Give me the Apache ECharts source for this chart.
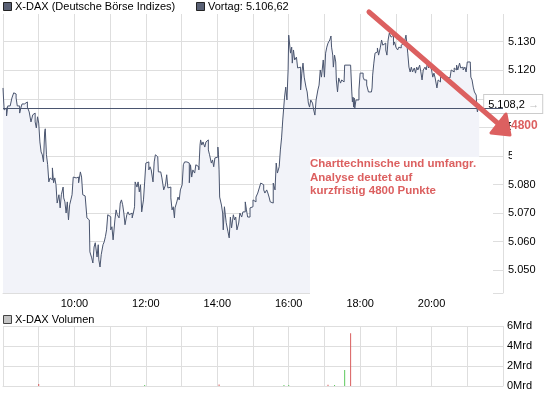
<!DOCTYPE html>
<html><head><meta charset="utf-8">
<script src="https://cdn.jsdelivr.net/npm/echarts@6/dist/echarts.min.js"></script>
<style>html,body{margin:0;padding:0;background:#fff}#c{width:545px;height:395px}</style>
</head><body><div id="c"></div>
<script>
const times = ['08:00','08:01','08:02','08:04','08:06','08:08','08:12','08:15','08:18','08:20','08:22','08:24','08:28','08:30','08:32','08:36','08:39','08:41','08:44','08:46','08:47','08:50','08:51','08:54','08:56','08:58',
'09:00','09:02','09:04','09:06','09:08','09:10','09:11','09:13','09:15','09:17','09:19','09:21','09:23','09:25','09:27','09:29','09:31','09:34','09:36','09:38','09:41','09:42','09:44','09:46','09:48','09:50','09:52','09:54','09:56','09:58',
'10:01','10:03','10:05','10:07','10:10','10:12','10:14','10:16','10:18','10:21','10:24','10:25','10:26','10:29','10:31','10:33','10:35','10:38','10:40','10:41','10:43','10:45','10:48','10:50','10:52','10:54','10:56','10:59',
'11:01','11:03','11:05','11:08','11:10','11:12','11:15','11:17','11:19','11:21','11:23','11:25','11:28','11:30','11:32','11:35','11:37','11:39','11:41','11:42','11:45','11:47','11:49','11:51','11:53','11:56','11:58',
'12:00','12:02','12:05','12:07','12:09','12:12','12:14','12:16','12:18','12:20','12:21','12:25','12:27','12:29','12:30','12:33','12:35','12:37','12:39','12:42','12:44','12:46','12:48','12:49','12:52','12:54','12:56','12:58',
'13:01','13:03','13:05','13:09','13:11','13:13','13:15','13:17','13:19','13:22','13:24','13:26','13:29','13:31','13:32','13:34','13:36','13:39','13:41','13:43','13:45','13:47','13:50','13:52','13:54','13:56','13:59',
'14:01','14:02','14:03','14:04','14:07','14:09','14:10','14:12','14:14','14:15','14:18','14:20','14:22','14:24','14:27','14:29','14:31','14:33','14:36','14:38','14:41','14:43','14:47','14:49','14:51','14:55','14:58',
'15:00','15:02','15:05','15:08','15:11','15:13','15:16','15:18','15:20','15:23','15:25','15:27','15:29','15:32','15:34','15:36','15:37','15:39','15:41','15:44','15:46','15:48','15:50','15:53','15:55','15:57','15:59',
'16:00','16:03','16:05','16:06','16:08','16:10','16:13','16:15','16:17','16:20','16:22','16:24','16:26','16:29','16:31','16:33','16:35','16:37','16:40','16:42','16:44','16:46','16:49','16:51','16:53','16:55','16:58',
'17:00','17:02','17:04','17:06','17:09','17:11','17:12','17:14','17:15','17:17','17:19','17:20','17:22','17:24','17:27','17:29','17:31','17:33','17:34','17:44','17:46','17:47','17:48','17:49','17:50','17:51','17:53','17:56','17:58',
'18:00','18:02','18:05','18:07','18:09','18:11','18:14','18:16','18:19','18:20','18:21','18:23','18:25','18:27','18:29','18:31','18:34','18:36','18:38','18:40','18:43','18:45','18:47','18:49','18:52','18:54','18:56','18:58',
'19:00','19:03','19:05','19:07','19:09','19:12','19:14','19:16','19:17','19:18','19:20','19:22','19:24','19:26','19:28','19:31','19:33','19:35','19:37','19:40','19:42','19:44','19:46','19:49','19:51','19:53','19:55','19:57',
'20:00','20:02','20:04','20:06','20:09','20:11','20:13','20:15','20:18','20:20','20:22','20:24','20:26','20:29','20:31','20:33','20:35','20:38','20:40','20:42','20:44','20:47','20:49','20:51','20:53','20:56','20:58',
'21:00','21:02','21:05','21:06','21:08','21:10','21:12','21:15','21:16','21:17','21:20'];
const prices = [5113.8,5109.6,5106.1,5106.8,5104.0,5107.5,5107.9,5110.3,5112.1,5111.7,5110.3,5107.5,5105.0,5106.8,5108.2,5107.5,5108.9,5107.1,5105.4,5105.0,5101.9,5104.4,5105.0,5101.9,5099.8,5103.7,
5101.5,5094.9,5091.4,5090.4,5087.9,5098.4,5099.5,5090.4,5086.9,5080.9,5082.3,5081.6,5085.8,5080.6,5082.3,5079.9,5073.5,5076.4,5071.8,5076.4,5079.1,5075.3,5073.9,5070.0,5073.9,5067.6,5072.9,5074.6,5076.4,5082.6,
5082.3,5081.6,5082.6,5080.6,5084.4,5082.6,5076.4,5076.0,5075.6,5068.3,5068.7,5067.6,5056.4,5054.3,5052.5,5058.1,5059.6,5054.6,5058.9,5053.6,5051.1,5055.4,5058.9,5059.9,5061.7,5064.1,5069.4,5068.7,
5064.1,5065.2,5060.6,5067.6,5071.1,5069.4,5068.3,5073.5,5074.6,5072.9,5070.0,5065.9,5069.4,5070.4,5069.4,5070.0,5068.3,5070.0,5072.2,5080.9,5079.1,5080.9,5077.4,5079.9,5070.4,5074.6,5080.9,
5087.5,5087.9,5085.1,5086.2,5085.1,5080.9,5087.9,5090.4,5089.7,5090.4,5084.4,5084.0,5082.3,5082.3,5078.1,5079.9,5083.4,5078.8,5079.1,5075.3,5071.1,5072.2,5068.3,5071.8,5073.9,5075.6,5074.6,5078.1,
5079.9,5086.9,5087.9,5087.9,5087.5,5080.6,5086.9,5082.6,5085.1,5084.0,5086.9,5086.2,5085.1,5093.8,5095.6,5093.8,5094.9,5093.1,5094.9,5095.6,5092.1,5090.4,5087.5,5088.6,5086.2,5089.3,5089.6,
5093.1,5090.4,5085.1,5075.6,5072.8,5070.0,5064.1,5072.2,5072.8,5066.6,5063.4,5061.3,5068.6,5064.8,5069.4,5067.6,5068.6,5064.1,5066.5,5070.0,5068.6,5070.4,5073.9,5071.1,5068.6,5071.8,5072.2,
5074.6,5073.9,5075.6,5077.0,5079.1,5080.5,5079.9,5078.1,5077.0,5078.1,5077.0,5075.6,5073.9,5073.5,5080.5,5080.9,5078.1,5087.5,5084.0,5086.2,5092.1,5096.3,5102.6,5110.6,5114.1,5109.6,5120.1,
5132.3,5126.0,5128.1,5122.5,5127.1,5123.6,5124.6,5120.8,5121.1,5113.1,5119.0,5122.5,5117.6,5114.1,5112.4,5108.5,5107.1,5109.6,5108.5,5106.1,5104.3,5109.6,5113.1,5114.8,5120.1,5117.6,5123.6,
5117.6,5126.0,5128.1,5129.5,5130.6,5132.0,5128.1,5125.3,5121.1,5125.3,5122.9,5116.6,5112.4,5117.3,5115.5,5116.6,5115.9,5115.9,5121.8,5121.8,5112.4,5108.9,5110.6,5107.1,5110.3,5106.8,5109.6,5109.6,5113.1,
5119.0,5119.0,5117.6,5116.6,5116.6,5114.8,5112.4,5112.4,5112.4,5113.8,5118.3,5122.5,5126.0,5126.4,5127.8,5125.3,5128.1,5130.6,5128.8,5129.5,5127.1,5125.3,5130.6,5133.0,5131.6,5132.3,5128.8,5129.9,
5128.1,5127.1,5128.1,5127.8,5128.8,5129.5,5129.2,5128.8,5132.3,5132.0,5126.0,5121.1,5119.4,5121.1,5119.4,5120.8,5119.0,5121.1,5120.1,5121.8,5119.4,5116.6,5120.1,5121.1,5120.1,5122.5,5120.8,5122.5,
5120.1,5117.6,5119.0,5117.3,5113.8,5116.6,5115.9,5117.6,5117.3,5118.3,5117.3,5116.6,5117.6,5117.3,5117.6,5120.1,5119.4,5120.8,5120.1,5121.8,5120.1,5122.5,5120.8,5121.1,5120.1,5121.1,5119.4,
5122.9,5122.9,5122.9,5117.6,5116.6,5114.1,5112.4,5111.3,5107.1,5105.4,5108.2];
const prevClose = 5106.62;
const priceTicks = [5050,5060,5070,5080,5090,5100,5110,5120,5130];
const hourTicks = [10,12,14,16,18,20];
const volTimes = ['09:00','11:58','14:03','15:52','16:00','17:06','17:17','17:34','17:44'];
const volValues = [0.2,0.1,0.15,0.1,0.1,0.12,0.1,1.6,5.27];
const volUp = [false,true,false,true,true,false,true,true,false];
const volTicks = [0,2,4,6];

const toH = t => { const p = t.split(':'); return +p[0] + (+p[1]) / 60; };
const deFmt = (v, d) => { const s = v.toFixed(d).split('.'); const i = s[0].replace(/\B(?=(\d{3})+(?!\d))/g, '.'); return d ? i + ',' + s[1] : i; };
const priceData = times.map((t, i) => [toH(t), prices[i]]);
const volData = volTimes.map((t, i) => ({ value: [toH(t), volValues[i]], itemStyle: { color: volUp[i] ? '#5cc85c' : '#d95c5c' } }));

const FONT = 'Liberation Sans';
const GRID = '#dedede';
const RED = '#dc6060';
const chart = echarts.init(document.getElementById('c'), null, { renderer: 'canvas' });
chart.setOption({
  animation: false,
  backgroundColor: '#fff',
  textStyle: { fontFamily: FONT },
  grid: [
    { left: 3, right: 42, top: 14, bottom: 102 },
    { left: 3, right: 42, top: 326, bottom: 9 }
  ],
  xAxis: [
    { gridIndex: 0, type: 'value', min: 8, max: 22, interval: 1,
      axisLine: { lineStyle: { color: GRID } }, axisTick: { show: false },
      splitLine: { lineStyle: { color: GRID } },
      axisLabel: { color: '#000', fontSize: 11, fontFamily: FONT, margin: 5,
        formatter: v => hourTicks.indexOf(v) >= 0 ? v + ':00' : '' } },
    { gridIndex: 1, type: 'value', min: 8, max: 22, interval: 1,
      axisLine: { lineStyle: { color: GRID } }, axisTick: { show: false },
      splitLine: { lineStyle: { color: GRID } }, axisLabel: { show: false } }
  ],
  yAxis: [
    { gridIndex: 0, type: 'value', position: 'right', min: 5042, max: 5139.7, scale: true,
      axisLine: { show: false }, axisTick: { show: false, customValues: priceTicks },
      splitLine: { lineStyle: { color: GRID } },
      axisLabel: { customValues: priceTicks, color: '#000', fontSize: 11, fontFamily: FONT, margin: 5,
        formatter: v => (v / 1000).toFixed(3) } },
    { gridIndex: 1, type: 'value', position: 'right', min: 0, max: 6, interval: 2,
      axisLine: { show: false }, axisTick: { show: false },
      splitLine: { lineStyle: { color: GRID } },
      axisLabel: { color: '#000', fontSize: 11, fontFamily: FONT, margin: 4, formatter: v => v + 'Mrd' } }
  ],
  series: [
    { type: 'line', xAxisIndex: 0, yAxisIndex: 0, data: priceData, showSymbol: false, symbol: 'none', step: 'end',
      lineStyle: { color: '#4a556f', width: 1 }, areaStyle: { color: '#f2f3f9', opacity: 1 },
      markLine: { silent: true, symbol: 'none', label: { show: false },
        lineStyle: { color: '#4a556f', width: 1, type: 'solid' }, data: [{ yAxis: prevClose }] },
      endLabel: { show: true, distance: 5,
        formatter: p => '{v|' + deFmt(p.value[1], 1) + '} {a|\u2192}',
        backgroundColor: '#fff', borderColor: '#cccccc', borderWidth: 1, padding: [4, 3, 2, 4],
        rich: { v: { fontSize: 11, color: '#000', fontFamily: FONT }, a: { fontSize: 11, color: '#bbbbbb', fontWeight: 'bold', fontFamily: FONT } } } },
    { type: 'bar', xAxisIndex: 1, yAxisIndex: 1, data: volData, barWidth: 1, barMinHeight: 1 }
  ],
  graphic: [
    { type: 'rect', z: 100, shape: { x: 3.5, y: 2.5, width: 8, height: 8 }, style: { fill: '#596074', stroke: '#222' } },
    { type: 'text', z: 100, left: 15, top: 1, style: { text: 'X-DAX (Deutsche Börse Indizes)', font: '11px "Liberation Sans"', fill: '#000' } },
    { type: 'rect', z: 100, shape: { x: 196.5, y: 2.5, width: 8, height: 8 }, style: { fill: '#596074', stroke: '#222' } },
    { type: 'text', z: 100, left: 208, top: 1, style: { text: 'Vortag: ' + deFmt(prevClose, 2), font: '11px "Liberation Sans"', fill: '#000' } },
    { type: 'rect', z: 100, shape: { x: 3.5, y: 315.5, width: 8, height: 8 }, style: { fill: '#c4c4c4', stroke: '#444' } },
    { type: 'text', z: 100, left: 15, top: 314, style: { text: 'X-DAX Volumen', font: '11px "Liberation Sans"', fill: '#000' } },
    { type: 'rect', z: 90, shape: { x: 310, y: 157, width: 183, height: 138 }, style: { fill: '#fff' } },
    { type: 'rect', z: 90, shape: { x: 512, y: 149, width: 33, height: 14 }, style: { fill: '#fff' } },
    { type: 'text', z: 95, left: 310, top: 157, style: { text: 'Charttechnische und umfangr.\nAnalyse deutet auf\nkurzfristig 4800 Punkte', font: 'bold 11.5px "Liberation Sans"', fill: RED, lineHeight: 13.7 } },
    { type: 'text', z: 95, left: 511, top: 120, style: { text: '4800', font: 'bold 12px "Liberation Sans"', fill: RED, backgroundColor: '#fff' } },
    { type: 'polyline', z: 100, shape: { points: [[369, 12], [501, 126]] }, style: { stroke: RED, lineWidth: 5, lineCap: 'round' } },
    { type: 'polygon', z: 100, shape: { points: [[506, 114], [510, 135], [491, 133]] }, style: { fill: RED, stroke: RED, lineWidth: 3, lineJoin: 'round' } }
  ]
});
</script></body></html>
